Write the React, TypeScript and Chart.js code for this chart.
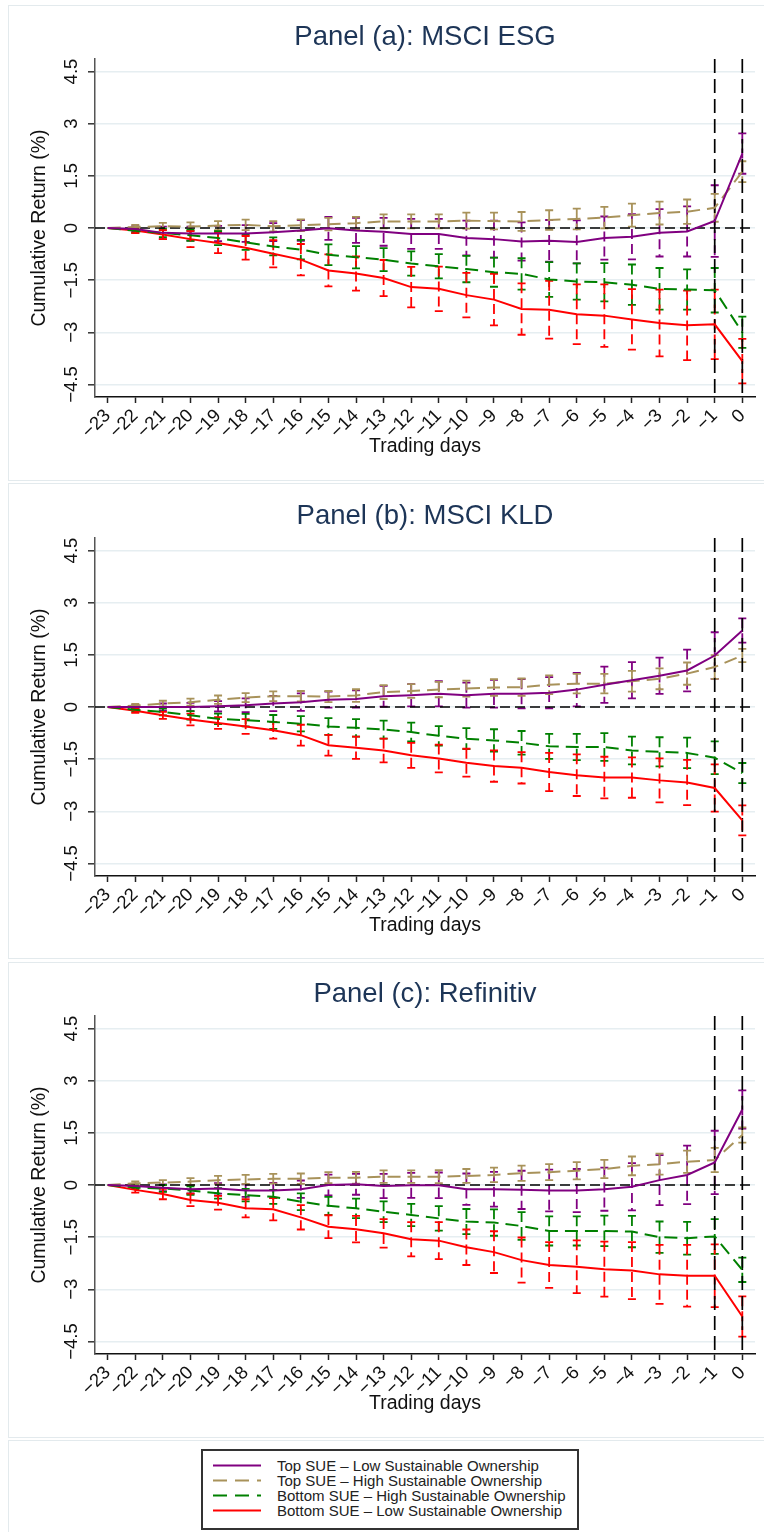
import React, { useEffect, useRef } from "react";
import { Chart, registerables } from "chart.js";

Chart.register(...registerables);

// ---------- data ----------
const days = [-23, -22, -21, -20, -19, -18, -17, -16, -15, -14, -13, -12, -11, -10, -9, -8, -7, -6, -5, -4, -3, -2, -1, 0];
const yTicks = [-4.5, -3, -1.5, 0, 1.5, 3, 4.5];
const eventDays = [-1, 0];

const panelTitles = ["Panel (a): MSCI ESG", "Panel (b): MSCI KLD", "Panel (c): Refinitiv"];
const seriesNames = [
  "Top SUE – Low Sustainable Ownership",
  "Top SUE – High Sustainable Ownership",
  "Bottom SUE – High Sustainable Ownership",
  "Bottom SUE – Low Sustainable Ownership",
];

// Panel (a): MSCI ESG
const topLowA = [0, -0.03, -0.14, -0.16, -0.16, -0.16, -0.12, -0.07, -0.01, -0.07, -0.11, -0.17, -0.17, -0.29, -0.32, -0.39, -0.37, -0.4, -0.29, -0.25, -0.14, -0.1, 0.2, 2.14];
const topHighA = [0, 0.03, 0.05, 0.04, 0.07, 0.09, 0.05, 0.08, 0.11, 0.14, 0.19, 0.19, 0.19, 0.21, 0.2, 0.19, 0.23, 0.26, 0.3, 0.37, 0.43, 0.47, 0.58, 1.62];
const botHighA = [0, -0.08, -0.14, -0.21, -0.29, -0.41, -0.53, -0.62, -0.77, -0.84, -0.91, -1.02, -1.1, -1.18, -1.27, -1.32, -1.48, -1.54, -1.56, -1.63, -1.75, -1.77, -1.79, -3.0];
const botLowA = [0, -0.07, -0.19, -0.32, -0.43, -0.57, -0.74, -0.91, -1.22, -1.31, -1.44, -1.7, -1.75, -1.93, -2.06, -2.33, -2.35, -2.48, -2.52, -2.63, -2.73, -2.8, -2.77, -3.83];
const topLowErrA = [0, 0.08, 0.18, 0.2, 0.22, 0.24, 0.26, 0.3, 0.33, 0.36, 0.4, 0.43, 0.43, 0.5, 0.53, 0.55, 0.6, 0.62, 0.62, 0.65, 0.68, 0.72, 1.03, 0.58];
const topHighErrA = [0, 0.06, 0.1, 0.12, 0.13, 0.15, 0.15, 0.17, 0.18, 0.18, 0.2, 0.2, 0.2, 0.23, 0.24, 0.27, 0.28, 0.3, 0.31, 0.33, 0.33, 0.35, 0.4, 0.3];
const botHighErrA = [0, 0.06, 0.12, 0.16, 0.2, 0.22, 0.26, 0.28, 0.3, 0.32, 0.33, 0.35, 0.35, 0.38, 0.42, 0.45, 0.5, 0.52, 0.55, 0.58, 0.6, 0.58, 0.64, 0.45];
const botLowErrA = [0, 0.08, 0.13, 0.23, 0.29, 0.34, 0.39, 0.45, 0.46, 0.49, 0.52, 0.58, 0.64, 0.64, 0.74, 0.74, 0.83, 0.86, 0.9, 0.87, 0.96, 1.0, 1.0, 0.64];

// Panel (b): MSCI KLD
const topLowB = [0, 0, 0, 0, 0.02, 0.05, 0.1, 0.14, 0.21, 0.23, 0.31, 0.34, 0.38, 0.34, 0.38, 0.38, 0.41, 0.5, 0.64, 0.77, 0.9, 1.05, 1.48, 2.2];
const topHighB = [0, 0.04, 0.1, 0.14, 0.21, 0.27, 0.31, 0.31, 0.3, 0.33, 0.43, 0.46, 0.5, 0.53, 0.56, 0.57, 0.64, 0.67, 0.67, 0.74, 0.81, 0.96, 1.15, 1.48];
const botHighB = [0, -0.08, -0.14, -0.24, -0.34, -0.38, -0.43, -0.48, -0.56, -0.6, -0.65, -0.72, -0.83, -0.91, -0.96, -1.03, -1.13, -1.15, -1.15, -1.25, -1.29, -1.32, -1.46, -1.9];
const botLowB = [0, -0.11, -0.24, -0.36, -0.46, -0.56, -0.67, -0.81, -1.1, -1.17, -1.25, -1.39, -1.48, -1.6, -1.7, -1.75, -1.87, -1.96, -2.03, -2.03, -2.11, -2.17, -2.33, -3.26];
const topLowErrB = [0, 0.05, 0.1, 0.12, 0.15, 0.2, 0.22, 0.25, 0.23, 0.25, 0.3, 0.32, 0.36, 0.36, 0.4, 0.42, 0.45, 0.48, 0.52, 0.52, 0.52, 0.6, 0.67, 0.35];
const topHighErrB = [0, 0.05, 0.08, 0.1, 0.12, 0.13, 0.14, 0.15, 0.16, 0.18, 0.2, 0.2, 0.22, 0.23, 0.24, 0.25, 0.27, 0.28, 0.28, 0.3, 0.3, 0.32, 0.34, 0.19];
const botHighErrB = [0, 0.05, 0.1, 0.12, 0.15, 0.18, 0.2, 0.22, 0.24, 0.25, 0.26, 0.27, 0.28, 0.3, 0.32, 0.34, 0.36, 0.38, 0.4, 0.4, 0.42, 0.44, 0.47, 0.29];
const botLowErrB = [0, 0.06, 0.1, 0.17, 0.17, 0.21, 0.24, 0.3, 0.3, 0.32, 0.34, 0.36, 0.4, 0.4, 0.45, 0.45, 0.55, 0.6, 0.6, 0.58, 0.63, 0.65, 0.68, 0.43];

// Panel (c): Refinitiv
const topLowC = [0, -0.03, -0.08, -0.12, -0.1, -0.16, -0.16, -0.12, 0, 0.02, -0.03, -0.01, -0.01, -0.12, -0.12, -0.14, -0.16, -0.16, -0.12, -0.05, 0.14, 0.29, 0.65, 2.17];
const topHighC = [0, 0.05, 0.07, 0.1, 0.14, 0.16, 0.18, 0.18, 0.21, 0.21, 0.24, 0.24, 0.24, 0.26, 0.29, 0.34, 0.37, 0.41, 0.46, 0.55, 0.6, 0.67, 0.72, 1.44];
const botHighC = [0, -0.07, -0.1, -0.16, -0.24, -0.29, -0.34, -0.48, -0.6, -0.67, -0.77, -0.86, -0.96, -1.05, -1.08, -1.18, -1.32, -1.32, -1.32, -1.34, -1.5, -1.53, -1.48, -2.44];
const botLowC = [0, -0.14, -0.26, -0.43, -0.51, -0.67, -0.7, -0.93, -1.2, -1.27, -1.39, -1.56, -1.6, -1.79, -1.93, -2.16, -2.3, -2.35, -2.42, -2.46, -2.57, -2.61, -2.61, -3.78];
const topLowErrC = [0, 0.06, 0.1, 0.12, 0.15, 0.18, 0.22, 0.25, 0.3, 0.3, 0.35, 0.36, 0.37, 0.45, 0.5, 0.55, 0.6, 0.62, 0.62, 0.68, 0.72, 0.84, 0.91, 0.55];
const topHighErrC = [0, 0.05, 0.07, 0.1, 0.12, 0.13, 0.14, 0.15, 0.16, 0.17, 0.18, 0.18, 0.19, 0.2, 0.21, 0.22, 0.23, 0.25, 0.26, 0.27, 0.3, 0.32, 0.35, 0.22];
const botHighErrC = [0, 0.05, 0.1, 0.12, 0.15, 0.18, 0.2, 0.24, 0.26, 0.28, 0.3, 0.32, 0.35, 0.36, 0.38, 0.4, 0.42, 0.42, 0.44, 0.45, 0.45, 0.47, 0.5, 0.35];
const botLowErrC = [0, 0.08, 0.15, 0.18, 0.2, 0.26, 0.32, 0.35, 0.33, 0.38, 0.41, 0.49, 0.53, 0.51, 0.6, 0.65, 0.66, 0.76, 0.79, 0.82, 0.85, 0.89, 0.9, 0.58];

// ---------- styles ----------
const FONT = "'Liberation Sans', Arial, Helvetica, sans-serif";
const seriesColors = ["#800080", "#a8925a", "#008000", "#ff0000"];
const seriesDash: number[][] = [[], [13, 7], [13, 7], []];
const panelTops = [4, 483, 961];
const boxTops = [5, 483, 962];

const panelValues = [
  [topLowA, topHighA, botHighA, botLowA],
  [topLowB, topHighB, botHighB, botLowB],
  [topLowC, topHighC, botHighC, botLowC],
];
const panelErrors = [
  [topLowErrA, topHighErrA, botHighErrA, botLowErrA],
  [topLowErrB, topHighErrB, botHighErrB, botLowErrB],
  [topLowErrC, topHighErrC, botHighErrC, botLowErrC],
];

const fmt = (v: number) => (v < 0 ? "\u2212" + String(Math.abs(v)) : String(v));

const refAndErrorPlugin = {
  id: "refAndErrors",
  beforeDatasetsDraw(chart: any) {
    const { ctx, chartArea, scales } = chart;
    const x = scales.x;
    const y = scales.y;
    ctx.save();
    ctx.beginPath();
    ctx.rect(chartArea.left, chartArea.top, chartArea.right - chartArea.left, chartArea.bottom - chartArea.top);
    ctx.clip();
    // error bars
    chart.data.datasets.forEach((ds: any) => {
      const errs: number[] = ds.errors || [];
      ctx.strokeStyle = ds.borderColor;
      ctx.lineWidth = 1.8;
      ds.data.forEach((p: any, i: number) => {
        const e = errs[i];
        if (!e) return;
        const px = x.getPixelForValue(p.x);
        const yt = y.getPixelForValue(p.y + e);
        const yb = y.getPixelForValue(p.y - e);
        ctx.setLineDash([10, 5]);
        ctx.beginPath();
        ctx.moveTo(px, yt);
        ctx.lineTo(px, yb);
        ctx.stroke();
        ctx.setLineDash([]);
        ctx.beginPath();
        ctx.moveTo(px - 4, yt);
        ctx.lineTo(px + 4, yt);
        ctx.moveTo(px - 4, yb);
        ctx.lineTo(px + 4, yb);
        ctx.stroke();
      });
    });
    // reference lines
    ctx.strokeStyle = "#000";
    ctx.lineWidth = 1.7;
    ctx.setLineDash([10, 5]);
    const y0 = y.getPixelForValue(0);
    ctx.beginPath();
    ctx.moveTo(chartArea.left, y0);
    ctx.lineTo(chartArea.right, y0);
    ctx.stroke();
    ctx.setLineDash([14, 6]);
    eventDays.forEach((d) => {
      const px = x.getPixelForValue(d);
      ctx.beginPath();
      ctx.moveTo(px, chartArea.top);
      ctx.lineTo(px, chartArea.bottom);
      ctx.stroke();
    });
    ctx.restore();
  },
};

function makeConfig(idx: number): any {
  const datasets = panelValues[idx].map((vals, s) => ({
    label: seriesNames[s],
    data: days.map((d, i) => ({ x: d, y: vals[i] })),
    errors: panelErrors[idx][s],
    borderColor: seriesColors[s],
    backgroundColor: seriesColors[s],
    borderWidth: 2,
    borderDash: seriesDash[s],
    pointRadius: 0,
    fill: false,
    tension: 0,
  }));
  return {
    type: "line",
    data: { datasets },
    plugins: [refAndErrorPlugin],
    options: {
      animation: false,
      responsive: false,
      maintainAspectRatio: false,
      events: [],
      layout: { padding: { left: 0, right: 9, top: 0, bottom: 0 } },
      plugins: {
        legend: { display: false },
        tooltip: { enabled: false },
        title: {
          display: true,
          text: panelTitles[idx],
          fullSize: false,
          color: "#1d3557",
          font: { family: FONT, size: 27.5, weight: "normal", lineHeight: 1.2 },
          padding: { top: 17, bottom: 5 },
        },
      },
      scales: {
        x: {
          type: "linear",
          min: -23.46,
          max: 0.46,
          afterBuildTicks: (s: any) => {
            s.ticks = days.map((v) => ({ value: v }));
          },
          afterFit: (s: any) => {
            s.height = 83;
          },
          ticks: {
            autoSkip: false,
            minRotation: 45,
            maxRotation: 45,
            padding: 2,
            color: "#111",
            font: { family: FONT, size: 18.5 },
            callback: (v: any) => fmt(Number(v)),
          },
          grid: {
            drawOnChartArea: false,
            drawTicks: true,
            tickLength: 6,
            tickColor: "#222",
            tickWidth: 1.5,
          },
          border: { display: true, color: "#111", width: 1.5 },
          title: {
            display: true,
            text: "Trading days",
            color: "#111",
            font: { family: FONT, size: 19.5, lineHeight: 1.2 },
            padding: { top: 0, bottom: 22 },
          },
        },
        y: {
          type: "linear",
          min: -4.86,
          max: 4.86,
          afterBuildTicks: (s: any) => {
            s.ticks = yTicks.map((v) => ({ value: v }));
          },
          afterFit: (s: any) => {
            s.width = 87;
          },
          ticks: {
            autoSkip: false,
            minRotation: 90,
            maxRotation: 90,
            crossAlign: "center",
            padding: -2,
            color: "#111",
            font: { family: FONT, size: 18.5 },
            callback: (v: any) => fmt(Number(v)),
          },
          grid: {
            color: "#e6eef1",
            lineWidth: 1.6,
            tickColor: "#333",
            tickLength: 7,
            tickWidth: 1.5,
          },
          border: { display: true, color: "#555", width: 1.5 },
          title: {
            display: true,
            text: "Cumulative Return (%)",
            color: "#111",
            font: { family: FONT, size: 19.5, lineHeight: 1.2 },
            padding: { top: 20, bottom: 0 },
          },
        },
      },
    },
  };
}

function Panel({ idx }: { idx: number }) {
  const ref = useRef<HTMLCanvasElement>(null);
  useEffect(() => {
    const chart = new Chart(ref.current as HTMLCanvasElement, makeConfig(idx));
    return () => chart.destroy();
  }, [idx]);
  return (
    <canvas
      ref={ref}
      width={756}
      height={476}
      style={{ position: "absolute", left: 8, top: panelTops[idx], width: 756, height: 476, display: "block" }}
    />
  );
}

function LegendSample({ s }: { s: number }) {
  return (
    <svg width={48} height={15} style={{ display: "block", flex: "none" }}>
      <line
        x1={0}
        y1={7.5}
        x2={48}
        y2={7.5}
        stroke={seriesColors[s]}
        strokeWidth={2}
        strokeDasharray={seriesDash[s].length ? "14 8" : undefined}
      />
    </svg>
  );
}

export default function App() {
  return (
    <div style={{ position: "absolute", left: 0, top: 0, width: 764, height: 1532, overflow: "hidden", background: "#fff" }}>
      {boxTops.map((t, i) => (
        <div
          key={"box" + i}
          style={{ position: "absolute", left: 8, top: t, width: 770, height: 476, border: "1px solid #e3eaed", boxSizing: "border-box" }}
        />
      ))}
      <div style={{ position: "absolute", left: 8, top: 1440, width: 770, height: 120, border: "1px solid #e3eaed", boxSizing: "border-box" }} />
      {[0, 1, 2].map((i) => (
        <Panel key={i} idx={i} />
      ))}
      <div
        style={{
          position: "absolute",
          left: 201,
          top: 1449,
          width: 378,
          height: 81,
          border: "2px solid #333",
          boxSizing: "border-box",
          paddingTop: 7,
          paddingLeft: 10,
          fontFamily: FONT,
          fontSize: 15,
          lineHeight: "15px",
          color: "#222",
          background: "#fff",
        }}
      >
        {seriesNames.map((name, s) => (
          <div key={s} style={{ display: "flex", alignItems: "center", height: 15 }}>
            <LegendSample s={s} />
            <span style={{ marginLeft: 16, whiteSpace: "nowrap" }}>{name}</span>
          </div>
        ))}
      </div>
    </div>
  );
}
